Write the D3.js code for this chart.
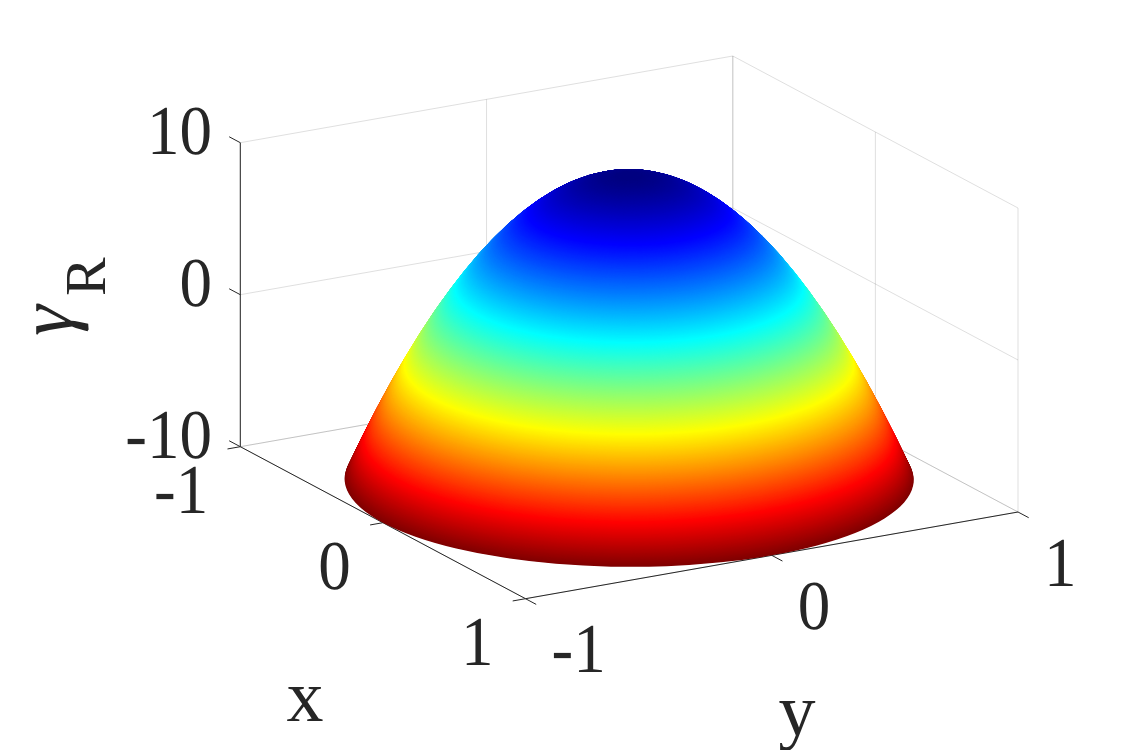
<!DOCTYPE html>
<html lang="en">
<head>
<meta charset="utf-8">
<title>Surface plot of gamma_R</title>
<script src="https://cdn.jsdelivr.net/npm/d3@7"></script>
<style>
  html, body { margin: 0; background: #fff; }
  text { font-family: "Liberation Serif", "Times New Roman", serif; fill: #262626; text-rendering: geometricPrecision; }
</style>
</head>
<body>
<script>
// surface profile: gamma_R against radius in the x-y plane
var radius = [0, 0.05, 0.1, 0.15, 0.2, 0.25, 0.3, 0.35, 0.4, 0.45, 0.5, 0.55, 0.6, 0.65, 0.7, 0.75, 0.8, 0.85, 0.9, 0.95, 1]
var gamma = [10, 9.95, 9.8, 9.55, 9.2, 8.75, 8.2, 7.55, 6.8, 5.95, 5, 3.95, 2.8, 1.55, 0.2, -1.25, -2.8, -4.45, -6.2, -8.05, -10]

// flipped jet colormap
var colorLevels = [-10, -7.5, -2.5, 2.5, 7.5, 10]
var colorStops = ["#800000", "#ff0000", "#ffff00", "#00ffff", "#0000ff", "#000080"]

var xTicks = [-1, 0, 1]
var yTicks = [-1, 0, 1]
var zTicks = [-10, 0, 10]

var width = 1125, height = 750

// each axis adds its own screen offset, the box is an oblique view
var xToPx = d3.scaleLinear().domain([-1, 1]).range([-142.6, 142.6])
var xToPy = d3.scaleLinear().domain([-1, 1]).range([-76, 76])
var yToPx = d3.scaleLinear().domain([-1, 1]).range([-246.25, 246.25])
var yToPy = d3.scaleLinear().domain([-1, 1]).range([43.35, -43.35])
var zToPy = d3.scaleLinear().domain([-10, 10]).range([479.35, 175.35])
var originX = 629.15

function px(p) { return originX + xToPx(p[0]) + yToPx(p[1]) }
function py(p) { return zToPy(p[2]) + xToPy(p[0]) + yToPy(p[1]) }

var line3d = d3.line().x(px).y(py)

var svg = d3.select("body").append("svg")
  .attr("width", width)
  .attr("height", height)
  .style("display", "block")

// grid on the two back walls and the floor
var gridLines = []
zTicks.forEach(function(z) {
  gridLines.push([[-1, -1, z], [-1, 1, z]])
  gridLines.push([[-1, 1, z], [1, 1, z]])
})
yTicks.forEach(function(y) {
  gridLines.push([[-1, y, -10], [-1, y, 10]])
  gridLines.push([[-1, y, -10], [1, y, -10]])
})
xTicks.forEach(function(x) {
  gridLines.push([[x, 1, -10], [x, 1, 10]])
  gridLines.push([[x, -1, -10], [x, 1, -10]])
})

svg.append("g").selectAll("path")
  .data(gridLines)
  .enter()
  .append("path")
  .attr("d", line3d)
  .attr("fill", "none")
  .attr("stroke", "#262626")
  .attr("stroke-opacity", 0.15)
  .attr("stroke-width", 1)

// axis lines and ticks
var axisLines = [
  [[-1, -1, -10], [1, -1, -10]],
  [[1, -1, -10], [1, 1, -10]],
  [[-1, -1, -10], [-1, -1, 10]]
]
xTicks.forEach(function(x) { axisLines.push([[x, -1, -10], [x, -1.052, -10]]) })
yTicks.forEach(function(y) { axisLines.push([[1, y, -10], [1.075, y, -10]]) })
zTicks.forEach(function(z) { axisLines.push([[-1, -1, z], [-1.078, -1, z]]) })

svg.append("g").selectAll("path")
  .data(axisLines)
  .enter()
  .append("path")
  .attr("d", line3d)
  .attr("fill", "none")
  .attr("stroke", "#262626")
  .attr("stroke-width", 1)

// surface: stack of level discs painted from the rim up to the peak
var radiusToGamma = d3.scaleLinear().domain(radius).range(gamma)
var gammaToColor = d3.scaleLinear().domain(colorLevels).range(colorStops).interpolate(d3.interpolateRgb)

var discs = d3.range(0, 900).map(function(i) { return 1 - i / 900 })

svg.append("g").selectAll("circle")
  .data(discs)
  .enter()
  .append("circle")
  .attr("r", 1)
  .attr("transform", function(r) {
    var g = radiusToGamma(r)
    return "matrix(" + [xToPx(1) * r, xToPy(1) * r, yToPx(1) * r, yToPy(1) * r, originX, zToPy(g)].join(" ") + ")"
  })
  .attr("fill", function(r) { return gammaToColor(radiusToGamma(r)) })

// tick labels hang off the projected tick positions
function addTickLabels(ticks, point, dx, dy, anchor) {
  svg.append("g").selectAll("text")
    .data(ticks)
    .enter()
    .append("text")
    .attr("transform", function(d) {
      var p = point(d)
      return "translate(" + (px(p) + dx) + "," + (py(p) + dy) + ") scale(0.93,1)"
    })
    .attr("text-anchor", anchor)
    .style("font-size", "70px")
    .text(function(d) { return d })
}

addTickLabels(zTicks, function(z) { return [-1, -1, z] }, -28.3, 11, "end")
addTickLabels(xTicks, function(x) { return [x, -1, -10] }, -32, 66, "end")
addTickLabels(yTicks, function(y) { return [1, y, -10] }, 26, 73.5, "start")

// axis labels
svg.append("text").attr("x", 305).attr("y", 720.5)
  .attr("text-anchor", "middle").style("font-size", "74px").text("x")
svg.append("text").attr("x", 797).attr("y", 735)
  .attr("text-anchor", "middle").style("font-size", "74px").text("y")

svg.append("text")
  .attr("transform", "translate(72,336) rotate(-90)")
  .style("font-size", "78px")
  .style("font-style", "italic")
  .text("γ")
svg.append("text")
  .attr("transform", "translate(105,296) rotate(-90)")
  .style("font-size", "58px")
  .text("R")
</script>
</body>
</html>
